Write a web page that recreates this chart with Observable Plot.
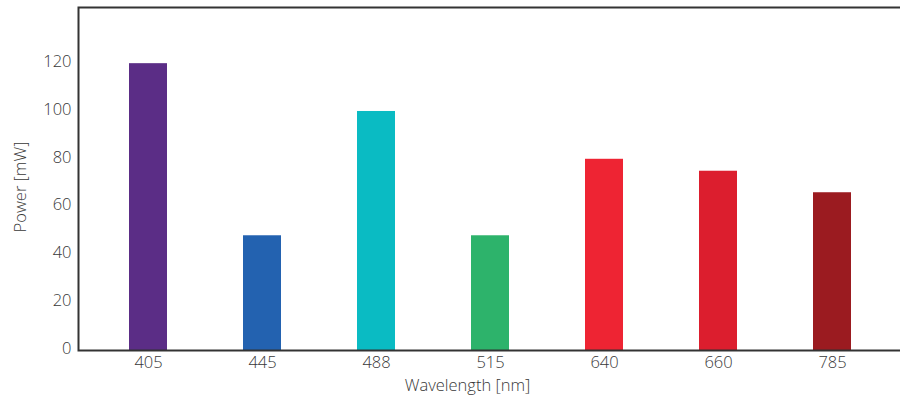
<!DOCTYPE html>
<html>
<head>
<meta charset="utf-8">
<script src="https://cdn.jsdelivr.net/npm/d3@7"></script>
<script src="https://cdn.jsdelivr.net/npm/@observablehq/plot@0.6"></script>
<style>
  html, body { margin: 0; padding: 0; background: #fff; }
  #chart svg { display: block; }
</style>
</head>
<body>
<div id="chart"></div>
<script>
const wavelengths = ["405", "445", "488", "515", "640", "660", "785"];
const powers = [120, 48, 100, 48, 80, 75, 66];
const colors = ["#5b2d86", "#2362b0", "#0abbc3", "#2db36b", "#ee2433", "#dc1e2e", "#9b1b20"];
const yTicks = [0, 20, 40, 60, 80, 100, 120];
const yMax = 143.5;

const data = wavelengths.map((w, i) => ({wavelength: w, power: powers[i], color: colors[i]}));

const axisColor = "#333";
const textColor = "#383838";
const font = "'Open Sans', 'Liberation Sans', Arial, sans-serif";
const fs = 16.5;

const chart = Plot.plot({
  width: 900,
  height: 400,
  marginTop: 7,
  marginBottom: 50,
  marginLeft: 78,
  marginRight: -2,
  style: {fontFamily: font, fontSize: fs + "px", fontWeight: 300, color: textColor, background: "#fff"},
  x: {domain: wavelengths, paddingInner: 0.667, paddingOuter: 0.333, insetLeft: 13, insetRight: 13, label: null, axis: null},
  y: {domain: [0, yMax], label: null, axis: null},
  marks: [
    Plot.barY(data, {x: "wavelength", y: "power", fill: "color"}),
    Plot.axisX({tickSize: 0, tickPadding: 6, fontSize: fs, fill: textColor, label: null}),
    Plot.axisY(yTicks, {tickSize: 0, tickPadding: 7, fontSize: fs, fill: textColor, label: null, dy: -2}),
    Plot.frame({stroke: axisColor, strokeWidth: 2}),
    Plot.text(["Wavelength [nm]"], {frameAnchor: "bottom", textAnchor: "middle", dx: -23, dy: 40, fontSize: fs, fill: textColor}),
    Plot.text(["Power [mW]"], {frameAnchor: "left", textAnchor: "middle", rotate: -90, dx: -58, dy: 8, fontSize: fs, fill: textColor})
  ]
});
document.getElementById("chart").appendChild(chart);
</script>
</body>
</html>
